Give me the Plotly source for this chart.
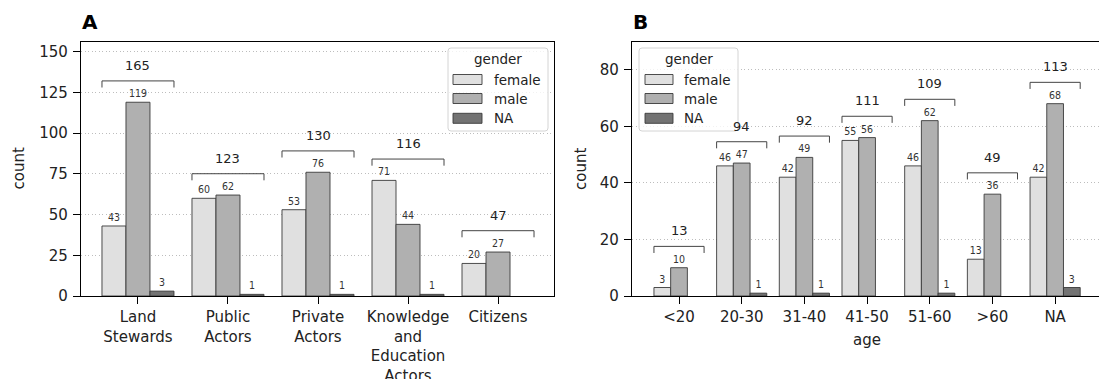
import plotly.graph_objects as go

W, H = 1099, 379

# ---------------- data ----------------
groups_a = ["Land Stewards", "Public Actors", "Private Actors",
            "Knowledge and Education Actors", "Citizens"]
ticklabels_a = ["Land<br>Stewards", "Public<br>Actors", "Private<br>Actors",
                "Knowledge<br>and<br>Education<br>Actors", "Citizens"]
female_a = [43, 60, 53, 71, 20]
male_a = [119, 62, 76, 44, 27]
na_a = [3, 1, 1, 1, None]

groups_b = ["<20", "20-30", "31-40", "41-50", "51-60", ">60", "NA"]
ticklabels_b = ["&lt;20", "20-30", "31-40", "41-50", "51-60", "&gt;60", "NA"]
female_b = [3, 46, 42, 55, 46, 13, 42]
male_b = [10, 47, 49, 56, 62, 36, 68]
na_b = [None, 1, 1, None, 1, None, 3]

hues = ["female", "male", "NA"]
colors = ["#e0e0e0", "#b0b0b0", "#737373"]
edge = "#3a3a3a"
FONT = "DejaVu Sans"

# ---------------- layout geometry (px) ----------------
A_l, A_r, top_px, bot_px = 81, 554, 42, 296
B_l, B_r = 632, 1099
yrange_a = [0, 156]
yrange_b = [0, 89.8]
xrange_a = [-0.633, 4.622]
xrange_b = [-0.75, 6.70]


def px2x(p):
    return p / W


def px2y(p):
    return 1 - p / H


fig = go.Figure()


def add_bars(groups, series, xa, ya):
    for name, vals, col in zip(hues, series, colors):
        fig.add_trace(go.Bar(
            x=groups, y=vals, name=name, xaxis=xa, yaxis=ya,
            marker=dict(color=col, line=dict(color=edge, width=0.9)),
            text=[("" if v is None else str(v)) for v in vals],
            textposition="outside", cliponaxis=False, constraintext="none",
            textfont=dict(family="DejaVu Sans Condensed, DejaVu Sans", size=10.5, color="#333333"),
            showlegend=False, hoverinfo="skip",
        ))


add_bars(groups_a, [female_a, male_a, na_a], "x", "y")
add_bars(groups_b, [female_b, male_b, na_b], "x2", "y2")

shapes = []
annotations = []


def add_brackets(series, xref, yref, yr):
    n = len(series[0])
    off = 0.084 * yr[1]
    tick = 0.026 * yr[1]
    lab = 0.061 * yr[1]
    for i in range(n):
        vals = [s[i] or 0 for s in series]
        total = sum(vals)
        yb = max(vals) + off
        x0, x1 = i - 0.4, i + 0.4
        line = dict(color="#444444", width=1)
        shapes.append(dict(type="line", xref=xref, yref=yref, x0=x0, x1=x1, y0=yb, y1=yb, line=line))
        shapes.append(dict(type="line", xref=xref, yref=yref, x0=x0, x1=x0, y0=yb, y1=yb - tick, line=line))
        shapes.append(dict(type="line", xref=xref, yref=yref, x0=x1, x1=x1, y0=yb, y1=yb - tick, line=line))
        annotations.append(dict(xref=xref, yref=yref, x=i, y=yb + lab, text=str(total),
                                showarrow=False, xanchor="center", yanchor="middle",
                                font=dict(family=FONT, size=13, color="#222222")))


add_brackets([female_a, male_a, na_a], "x", "y", yrange_a)
add_brackets([female_b, male_b, na_b], "x2", "y2", yrange_b)


def add_legend(left, right, top, bottom, sw_l, sw_r, txt_l, rows):
    r = 3
    x0, x1 = left, right
    y0, y1 = top, bottom
    path = (f"M{px2x(x0 + r)},{px2y(y0)} L{px2x(x1 - r)},{px2y(y0)} "
            f"Q{px2x(x1)},{px2y(y0)} {px2x(x1)},{px2y(y0 + r)} "
            f"L{px2x(x1)},{px2y(y1 - r)} Q{px2x(x1)},{px2y(y1)} {px2x(x1 - r)},{px2y(y1)} "
            f"L{px2x(x0 + r)},{px2y(y1)} Q{px2x(x0)},{px2y(y1)} {px2x(x0)},{px2y(y1 - r)} "
            f"L{px2x(x0)},{px2y(y0 + r)} Q{px2x(x0)},{px2y(y0)} {px2x(x0 + r)},{px2y(y0)} Z")
    shapes.append(dict(type="path", xref="paper", yref="paper", path=path,
                       fillcolor="rgba(255,255,255,0.8)", line=dict(color="#d4d4d4", width=1),
                       layer="above"))
    annotations.append(dict(xref="paper", yref="paper", x=px2x((left + right) / 2), y=px2y(top + 11),
                            text="gender", showarrow=False, xanchor="center", yanchor="middle",
                            font=dict(family=FONT, size=13.5, color="#222222")))
    for name, col, cy in zip(hues, colors, rows):
        shapes.append(dict(type="rect", xref="paper", yref="paper",
                           x0=px2x(sw_l), x1=px2x(sw_r), y0=px2y(cy - 5), y1=px2y(cy + 5),
                           fillcolor=col, line=dict(color=edge, width=0.9), layer="above"))
        annotations.append(dict(xref="paper", yref="paper", x=px2x(txt_l), y=px2y(cy),
                                text=name, showarrow=False, xanchor="left", yanchor="middle",
                                font=dict(family=FONT, size=13.5, color="#222222")))


add_legend(448, 548, 48, 131, 453, 482, 492, [79.5, 98.5, 118.3])
add_legend(639, 738, 48, 131, 645, 673, 682, [79.5, 98.5, 118.3])

# axis titles and panel letters
annotations += [
    dict(xref="paper", yref="paper", x=px2x(18.5), y=px2y(169), text="count", textangle=-90,
         showarrow=False, xanchor="center", yanchor="middle", font=dict(family=FONT, size=15, color="#222")),
    dict(xref="paper", yref="paper", x=px2x(581), y=px2y(169), text="count", textangle=-90,
         showarrow=False, xanchor="center", yanchor="middle", font=dict(family=FONT, size=15, color="#222")),
    dict(xref="paper", yref="paper", x=px2x(867), y=px2y(340), text="age",
         showarrow=False, xanchor="center", yanchor="middle", font=dict(family=FONT, size=15, color="#222")),
    dict(xref="paper", yref="paper", x=px2x(80), y=px2y(22), text="<b>A</b>",
         showarrow=False, xanchor="left", yanchor="middle", font=dict(family=FONT, size=20, color="#000")),
    dict(xref="paper", yref="paper", x=px2x(631), y=px2y(22), text="<b>B</b>",
         showarrow=False, xanchor="left", yanchor="middle", font=dict(family=FONT, size=20, color="#000")),
]

axis_common = dict(showline=True, linecolor="black", linewidth=1.2, ticks="outside", ticklen=7,
                   tickwidth=1, tickcolor="black", tickfont=dict(family=FONT, size=15, color="#222"),
                   zeroline=False, automargin=False)

grid_common = dict(showgrid=True, gridcolor="#bdbdbd", griddash="1px,2.5px", gridwidth=1)

fig.update_layout(
    width=W, height=H, margin=dict(l=0, r=0, t=0, b=0, autoexpand=False),
    paper_bgcolor="white", plot_bgcolor="white",
    barmode="group", bargap=0.2, bargroupgap=0,
    showlegend=False, hovermode=False,
    xaxis=dict(domain=[px2x(A_l), px2x(A_r)], range=xrange_a, anchor="y", type="category",
               tickmode="array", tickvals=groups_a, ticktext=ticklabels_a, mirror=True,
               showgrid=False, **axis_common),
    yaxis=dict(domain=[px2y(bot_px), px2y(top_px)], range=yrange_a, anchor="x", mirror=True,
               tickvals=[0, 25, 50, 75, 100, 125, 150], ticklabelstandoff=2,
               **grid_common, **axis_common),
    xaxis2=dict(domain=[px2x(B_l), 1.0], range=xrange_b, anchor="y2", type="category",
                tickmode="array", tickvals=groups_b, ticktext=ticklabels_b, mirror=True,
                showgrid=False, **axis_common),
    yaxis2=dict(domain=[px2y(bot_px), px2y(top_px)], range=yrange_b, anchor="x2", mirror=False,
                tickvals=[0, 20, 40, 60, 80], ticklabelstandoff=2,
                **grid_common, **axis_common),
    shapes=shapes, annotations=annotations,
    font=dict(family=FONT),
)

post = ("document.documentElement.style.margin='0px';"
        "document.documentElement.style.overflow='hidden';"
        "document.body.style.margin='0px';"
        "document.body.style.overflow='hidden';")

fig.write_html("out.html", config={"displayModeBar": False, "staticPlot": True},
               post_script=post)
